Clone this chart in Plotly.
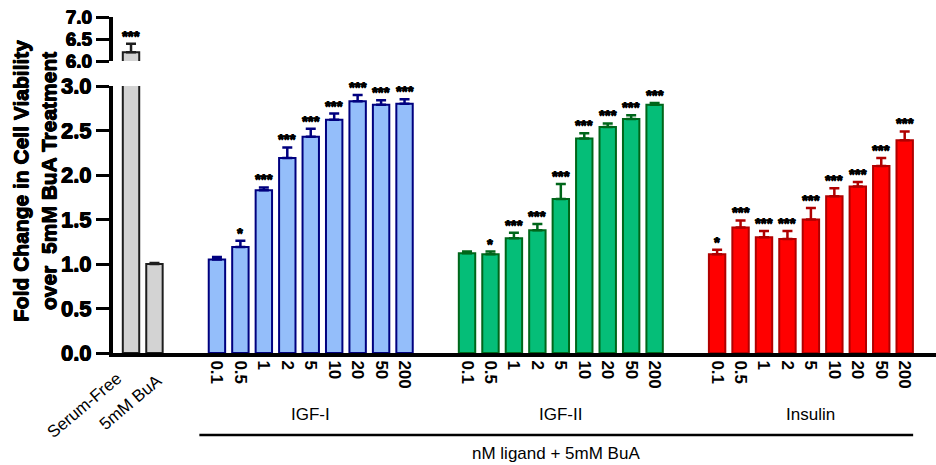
import plotly.graph_objects as go

# ---- data -----------------------------------------------------------------
concentrations = ["0.1", "0.5", "1", "2", "5", "10", "20", "50", "200"]

control_labels = ["Serum-Free", "5mM BuA"]
control_mean = [6.20, 1.00]
control_sem = [0.19, 0.01]
control_sig = ["***", ""]

igf1_mean = [1.05, 1.19, 1.83, 2.19, 2.43, 2.62, 2.83, 2.79, 2.80]
igf1_sem = [0.03, 0.07, 0.03, 0.12, 0.09, 0.07, 0.07, 0.05, 0.05]
igf1_sig = ["", "*", "***", "***", "***", "***", "***", "***", "***"]

igf2_mean = [1.12, 1.11, 1.29, 1.38, 1.73, 2.41, 2.54, 2.63, 2.79]
igf2_sem = [0.02, 0.03, 0.06, 0.07, 0.17, 0.06, 0.04, 0.04, 0.02]
igf2_sig = ["", "*", "***", "***", "***", "***", "***", "***", "***"]

ins_mean = [1.11, 1.41, 1.30, 1.28, 1.50, 1.76, 1.87, 2.10, 2.39]
ins_sem = [0.05, 0.08, 0.07, 0.09, 0.13, 0.09, 0.05, 0.09, 0.10]
ins_sig = ["*", "***", "***", "***", "***", "***", "***", "***", "***"]

group_names = ["IGF-I", "IGF-II", "Insulin"]

# ---- layout helpers -------------------------------------------------------
FONT = "Liberation Sans, Arial, sans-serif"
HEAVY = ("0.5px 0 0 black, -0.5px 0 0 black, "
         "0 0.5px 0 black, 0 -0.5px 0 black")
GAP = 2.665          # extra spacing between groups (in bar slots)
BAR_W = 0.70

W, H = 936, 465
ML, MR, MT, MB = 113, 0, 17, 112
PW, PH = W - ML - MR, H - MT - MB

def px_x(p):      # figure pixel column -> paper x
    return (p - ML) / PW

def px_y(p):      # figure pixel row -> paper y
    return (H - MB - p) / PH

control_x = [0.0, 1.0]
group_x = []
start = control_x[-1] + GAP
for g in range(3):
    group_x.append([start + k for k in range(len(concentrations))])
    start = group_x[-1][-1] + GAP

styles = [
    ("#94BEFA", "#00007F"),   # IGF-I
    ("#05BE78", "#00661A"),   # IGF-II
    ("#FF0000", "#B00000"),   # Insulin
]
means = [igf1_mean, igf2_mean, ins_mean]
sems = [igf1_sem, igf2_sem, ins_sem]
sigs = [igf1_sig, igf2_sig, ins_sig]

fig = go.Figure()

def add_bars(xs, ys, es, fill, edge, yaxis="y"):
    fig.add_trace(go.Bar(
        x=xs, y=ys, width=BAR_W, yaxis=yaxis,
        marker=dict(color=fill, line=dict(color=edge, width=2)),
        error_y=dict(type="data", array=es, arrayminus=[0] * len(es),
                     symmetric=False, color=edge, thickness=2.5, width=5),
        showlegend=False, hoverinfo="x+y",
    ))

# control bars: lower segment (values clipped at 3.0) and upper segment
add_bars(control_x, control_mean,
         [0 if m > 3 else e for m, e in zip(control_mean, control_sem)],
         "#D3D3D3", "#1E1E1E")
add_bars(control_x[:1], control_mean[:1], control_sem[:1],
         "#D3D3D3", "#1E1E1E", yaxis="y2")

for xs, ys, es, (fill, edge) in zip(group_x, means, sems, styles):
    add_bars(xs, ys, es, fill, edge)

# significance marks
annotations = []
def star(x, top, text, yref="y"):
    if text:
        annotations.append(dict(
            x=x, y=top, xref="x", yref=yref, text=text, showarrow=False,
            yanchor="bottom", yshift=-2,
            font=dict(family=FONT, size=15, color="black", weight="bold",
                      shadow=HEAVY)))

star(control_x[0], control_mean[0] + control_sem[0], control_sig[0], "y2")
for xs, ys, es, ss in zip(group_x, means, sems, sigs):
    for x, m, e, s in zip(xs, ys, es, ss):
        star(x, m + e, s)

# rotated control labels (upper-right end of each label)
for lab, (ex, ey) in zip(control_labels, [(128, 366), (168, 368)]):
    annotations.append(dict(
        x=px_x(ex), y=px_y(ey), xref="paper", yref="paper", text=lab,
        showarrow=False, textangle=-40, xanchor="right", yanchor="top",
        font=dict(family=FONT, size=17, color="black")))

# group names and the shared treatment label
for xs, name in zip(group_x, group_names):
    annotations.append(dict(
        x=(xs[0] + xs[-1]) / 2, y=px_y(414), xref="x", yref="paper",
        text=name, showarrow=False, yanchor="middle",
        font=dict(family=FONT, size=17, color="black")))

line_x0 = group_x[0][0] - 0.75
line_x1 = group_x[-1][-1] + 0.36
annotations.append(dict(
    x=(line_x0 + line_x1) / 2, y=px_y(453), xref="x", yref="paper",
    text="nM ligand + 5mM BuA", showarrow=False, yanchor="middle",
    font=dict(family=FONT, size=17, color="black")))

# y-axis title, two lines
for xpx, txt in [(20, "Fold Change in Cell Viability"),
                 (48, "over\u00a0 5mM BuA Treatment")]:
    annotations.append(dict(
        x=px_x(xpx), y=px_y(181), xref="paper", yref="paper",
        xanchor="center", yanchor="middle", text=txt, textangle=-90,
        showarrow=False,
        font=dict(family=FONT, size=21, color="black", weight="bold",
                  shadow=HEAVY)))

all_x = [x for xs in group_x for x in xs]
all_t = concentrations * 3

def y_axis_style(size):
    return dict(
        showline=True, linecolor="black", linewidth=4,
        ticks="outside", ticklen=13, tickwidth=3, tickcolor="black",
        tickfont=dict(family=FONT, size=size, color="black", weight="bold",
                      shadow=HEAVY),
        showgrid=False, zeroline=False, tickformat=".1f",
    )

fig.update_layout(
    width=W, height=H,
    margin=dict(l=ML, r=MR, t=MT, b=MB),
    plot_bgcolor="white", paper_bgcolor="white",
    barmode="overlay",
    xaxis=dict(
        range=[-0.768, 34.33], showline=True, linecolor="black", linewidth=4,
        tickvals=all_x, ticktext=all_t, tickangle=90, ticks="",
        tickfont=dict(family=FONT, size=17, color="black", weight="bold"),
        showgrid=False, zeroline=False, anchor="y",
    ),
    yaxis=dict(domain=[0, px_y(86)], range=[0, 3],
               tickvals=[0, 0.5, 1, 1.5, 2, 2.5, 3], **y_axis_style(22)),
    yaxis2=dict(domain=[px_y(61), 1], range=[6, 7], anchor="x",
                tickvals=[6, 6.5, 7], **y_axis_style(19)),
    annotations=annotations,
    shapes=[dict(type="line", xref="x", yref="paper",
                 x0=line_x0, x1=line_x1, y0=px_y(435), y1=px_y(435),
                 line=dict(color="black", width=2.5))],
)

fig.write_html("out.html")
